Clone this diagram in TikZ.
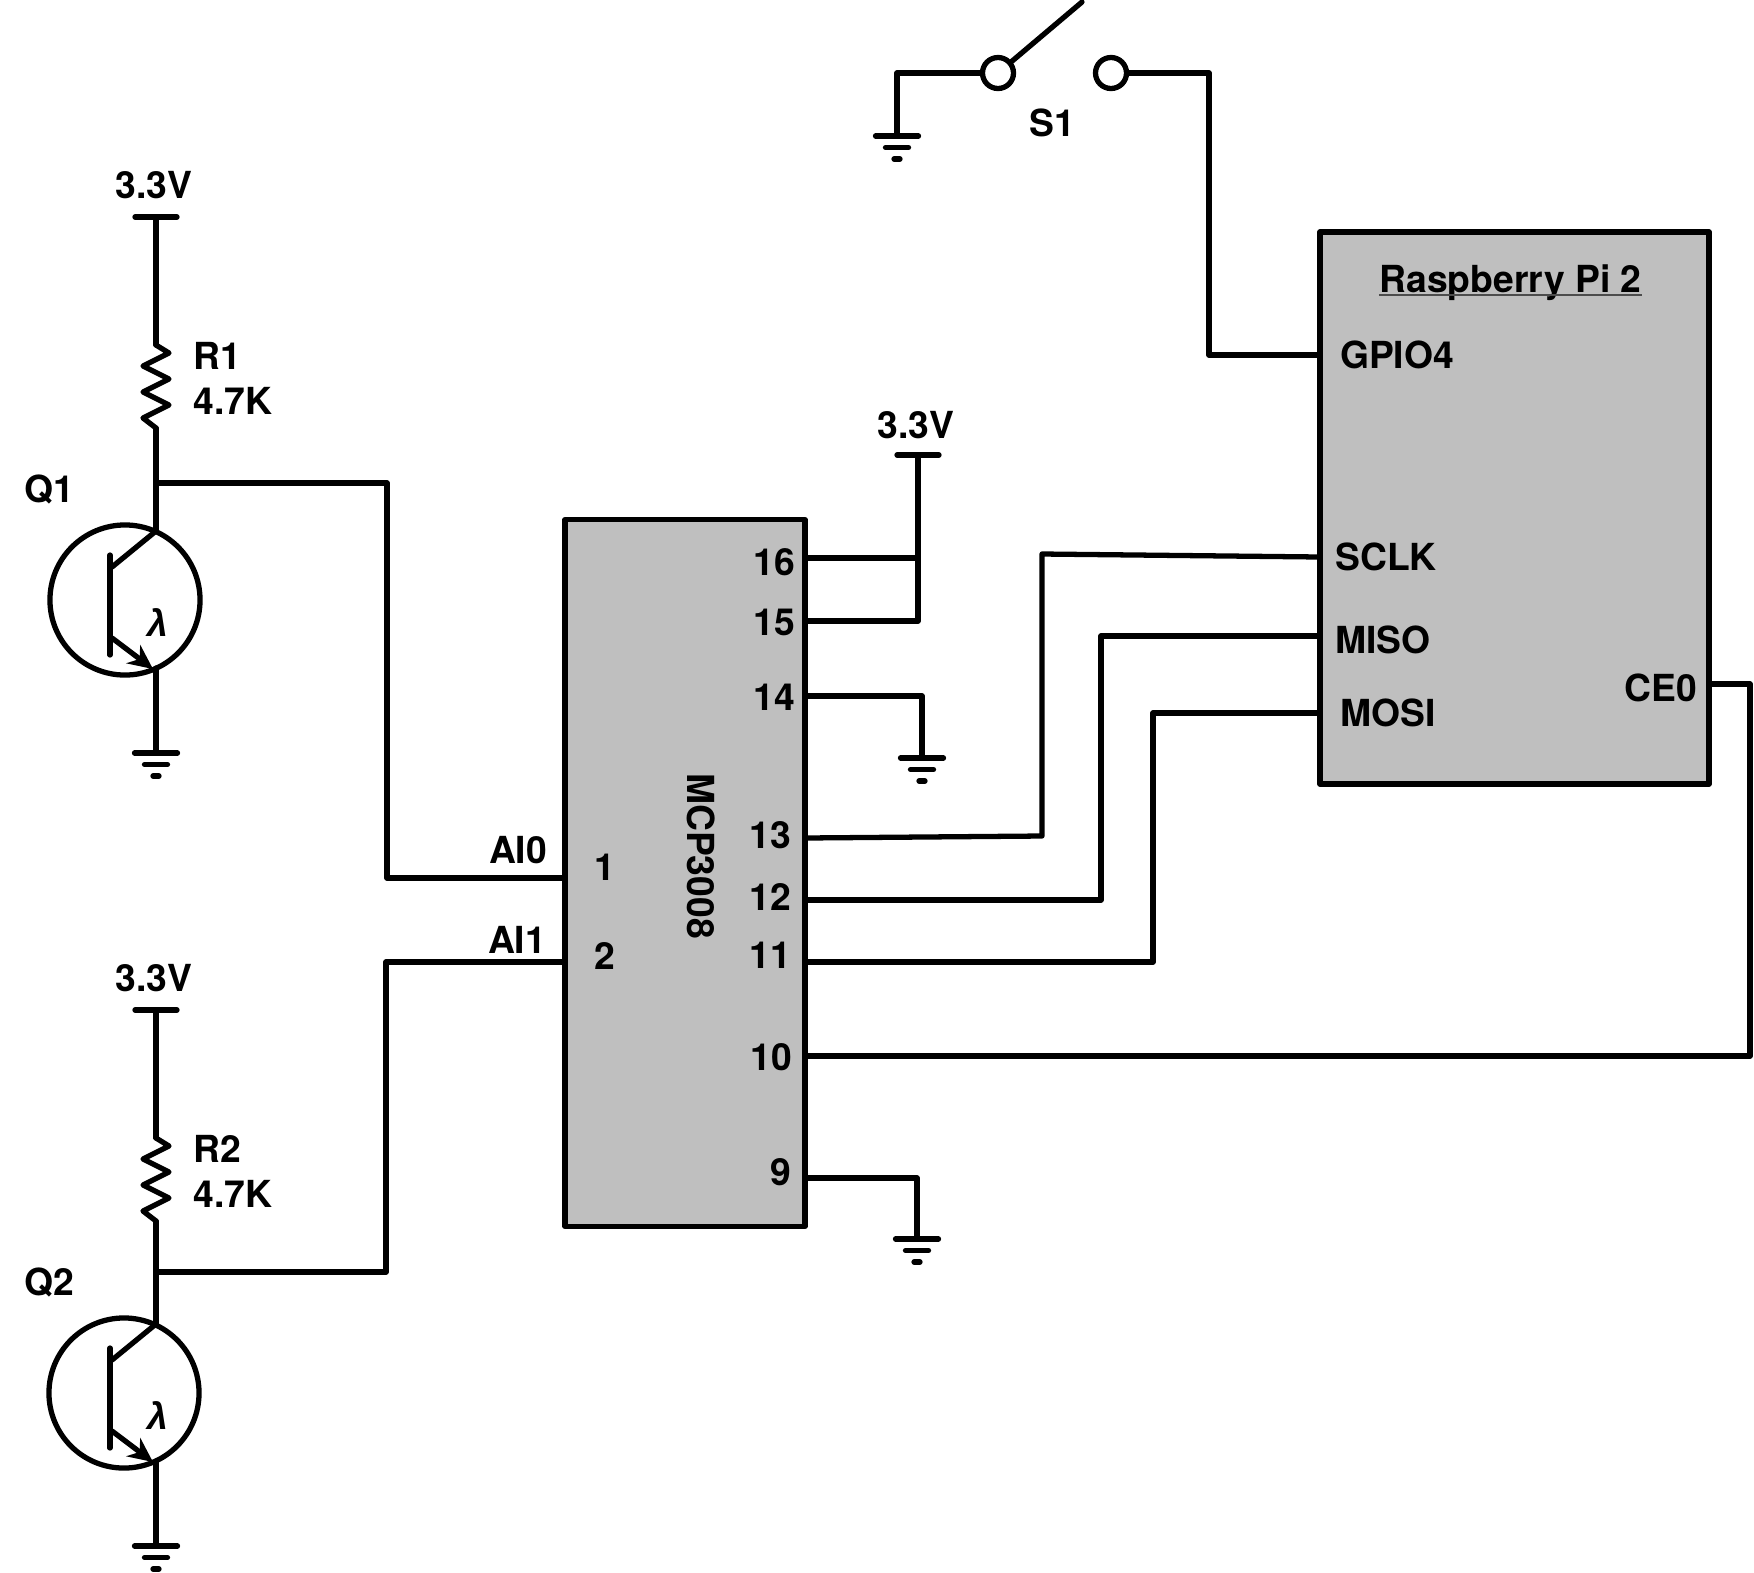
\documentclass[tikz,border=0pt]{standalone}
\usepackage{fontspec}
\setmainfont{TeX Gyre Heros}
\newfontfamily\lamfont{Liberation Sans}
\usetikzlibrary{arrows.meta}
\definecolor{chipgray}{HTML}{BFBFBF}
\tikzset{
  wire/.style={line width=1.5pt,line cap=round,line join=round},
  lbl/.style={font=\fontsize{10.6}{12}\selectfont\bfseries,inner sep=0pt},
  chipbox/.style={draw,wire,fill=chipgray,inner sep=0pt},
  qcircle/.style={draw,wire,circle,minimum size=1.5cm,inner sep=0pt},
  contact/.style={draw,wire,circle,fill=white,minimum size=0.31cm,inner sep=0pt},
  gnd/.pic={
    \draw[wire](-21.5,0)--(21.5,0);
    \draw[wire](-11.5,11.5)--(11.5,11.5);
    \draw[wire](-3,23)--(3,23);
  },
  vcc/.pic={\draw[wire](-21,0)--(21,0);},
  resistor/.pic={
    \draw[wire](0,0)--(13,8)--(-13,21)--(13,34)--(-13,47)--(13,60)--(-13,73)--(0,83);
  },
  phototrans/.pic={
    \draw[wire](-46,-45)--(-46,55);
    \draw[wire](-44,-33)--(0,-69);
    \draw[wire,-{Stealth[length=7pt,width=6.5pt]}](-44,38)--(-3,69);
  }
}
\begin{document}
\begin{tikzpicture}[x=0.01cm,y=-0.01cm]
\useasboundingbox (0,0) rectangle (1754,1572);
% chips
\node[chipbox,minimum width=2.4cm,minimum height=7.06cm] (mcp) at (685,873) {};
\node[chipbox,minimum width=3.89cm,minimum height=5.515cm] (rpi) at (1514.5,508) {};
\node[lbl,rotate=-90] (mcpname) at (701,856) {MCP3008};
\node[lbl] (rpiname) at (1510.5,283) {Raspberry Pi 2};
\draw[line width=0.7pt,black!70] ([yshift=-0.6pt]rpiname.base west)--([yshift=-0.6pt]rpiname.base east);
% pin numbers
\foreach \v/\x/\y in {16/774/562,15/774/622,14/774/697,13/770/835,12/770/897,11/770/955,10/771/1057,9/781/1172,1/605/867,2/605/956}
  \node[lbl] (n\v) at (\x,\y) {\v};
\foreach \v/\x/\y in {GPIO4/1397/355,SCLK/1386/557,MISO/1383/640,MOSI/1388/713,CE0/1661/688,AI0/518/850,AI1/517/940,S1/1052/123,Q1/49/489,Q2/49/1282}
  \node[lbl] (t\v) at (\x,\y) {\v};
% transistors with supply and load resistor
\foreach \n/\dx/\dy in {1/0/0,2/-1/793} {
  \node[qcircle] (q\n) at (125+\dx,600+\dy) {};
  \node[lbl] (lam\n) at (158,622+\dy) {\lamfont\itshape λ};
  \node[lbl] (vl\n) at (154,185+\dy) {3.3V};
  \node[lbl,anchor=west] (rn\n) at (193,355.5+\dy) {R\n};
  \node[lbl,anchor=west] (rv\n) at (193,400.5+\dy) {4.7K};
  \coordinate (vt\n) at (156,217+\dy);
  \coordinate (rt\n) at (156,345+\dy);
  \coordinate (rb\n) at (156,428+\dy);
  \coordinate (ce\n) at (156,531+\dy);
  \coordinate (em\n) at (156,668+\dy);
  \coordinate (gn\n) at (156,753+\dy);
  \pic at (vt\n) {vcc};
  \pic at (rt\n) {resistor};
  \pic at (ce\n |- q\n) {phototrans};
  \pic at (gn\n) {gnd};
  \draw[wire](vt\n)--(rt\n);
  \draw[wire](rb\n)--(ce\n);
  \draw[wire](em\n)--(gn\n);
}
% pins of the adc
\coordinate (j1) at (156,483);
\coordinate (k1) at (387,483);
\coordinate (ai0) at (565,878);
\coordinate (j2) at (156,1272);
\coordinate (k2) at (386,1272);
\coordinate (ai1) at (565,962);
\draw[wire](j1)--(k1)|-(ai0);
\draw[wire](j2)--(k2)|-(ai1);
% supply and ground of the adc
\node[lbl] (vl3) at (916,425) {3.3V};
\coordinate (vt3) at (918,455);
\coordinate (p16) at (805,558);
\coordinate (p15) at (805,621);
\coordinate (p14) at (805,696);
\coordinate (p9) at (805,1178);
\coordinate (g14) at (922,758);
\coordinate (g9) at (917,1239);
\pic at (vt3) {vcc};
\pic at (g14) {gnd};
\pic at (g9) {gnd};
\draw[wire](p16)-|(vt3);
\draw[wire](p15)-|(vt3);
\draw[wire](p14)-|(g14);
\draw[wire](p9)-|(g9);
% spi
\coordinate (p13) at (805,838);
\coordinate (b13) at (1042,836);
\coordinate (c13) at (1042,554);
\coordinate (sclk) at (1320,557);
\draw[wire](p13)--(b13)--(c13)--(sclk);
\coordinate (p12) at (805,900);
\coordinate (b12) at (1101,900);
\coordinate (miso) at (1320,636);
\draw[wire](p12)--(b12)|-(miso);
\coordinate (p11) at (805,962);
\coordinate (b11) at (1153,962);
\coordinate (mosi) at (1320,713);
\draw[wire](p11)--(b11)|-(mosi);
\coordinate (p10) at (805,1056);
\coordinate (b10) at (1750,1056);
\coordinate (ce0) at (1709,684);
\draw[wire](p10)--(b10)|-(ce0);
% switch
\node[contact] (sa) at (998,73) {};
\node[contact] (sb) at (1111,73) {};
\coordinate (sg) at (897,136);
\coordinate (sarm) at (1082,2);
\coordinate (sc) at (1209,73);
\coordinate (gpio) at (1320,355);
\pic at (sg) {gnd};
\draw[wire](sa)-|(sg);
\draw[wire](sa)--(sarm);
\draw[wire](sb)--(sc)|-(gpio);
\end{tikzpicture}
\end{document}
